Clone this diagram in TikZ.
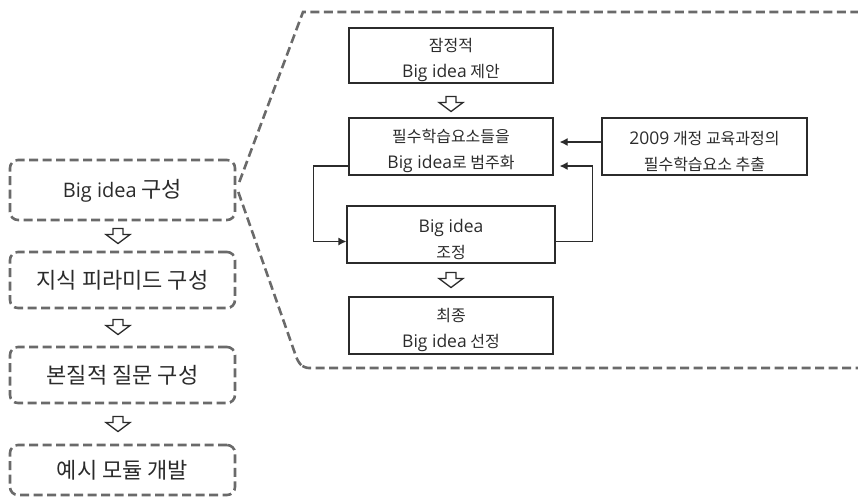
\documentclass[tikz,border=0pt]{standalone}
\usepackage{fontspec}
\setmainfont{Noto Sans CJK KR}
\newfontfamily\latfont{Open Sans}
\newcommand{\Bi}{{\latfont\fontsize{17.5}{26}\selectfont Big idea}}
\newcommand{\tstrut}{\rule{0pt}{22.5pt}}
\usetikzlibrary{arrows.meta,calc}
\definecolor{txt}{HTML}{2B2B2B}
\definecolor{dash}{HTML}{6A6A6A}
\begin{document}
\begin{tikzpicture}[x=1pt,y=-1pt,
  every node/.style={font=\fontsize{16}{26}\selectfont, text=txt, align=center},
  big/.style={font=\fontsize{22}{27}\selectfont},
  dbox/.style={draw=dash, line width=2.6pt, dash pattern=on 9pt off 4.5pt, rounded corners=8pt, minimum width=225pt, inner sep=0pt, big},
  sbox/.style={draw=txt, line width=1.2pt, minimum width=204pt, minimum height=56pt, inner sep=0pt},
  hollowline/.style={draw=txt, fill=white, line width=1.3pt, line join=miter},
  harrow/.pic={\path[hollowline] (-5,-7.5) -- (5,-7.5) -- (5,-1.5) -- (12,-1.5) -- (0,7.5) -- (-12,-1.5) -- (-5,-1.5) -- cycle;},
  conn/.style={draw=txt, line width=1.2pt, -{Latex[length=8pt,width=8pt]}},
  outline/.style={draw=dash, line width=2.6pt, dash pattern=on 9pt off 4.5pt}]
\useasboundingbox (0,0) rectangle (858,499);
% left column
\node[dbox, minimum height=60pt] (L1) at (122.5,190) {\rule{0pt}{20pt}{\latfont\fontsize{20}{25}\selectfont Big idea} 구성};
\node[dbox, minimum height=56pt] (L2) at (122.5,280) {지식 피라미드 구성};
\node[dbox, minimum height=56pt] (L3) at (122.5,375) {본질적 질문 구성};
\node[dbox, minimum height=50pt] (L4) at (122.5,470) {예시 모듈 개발};
\pic (h1) at (118,236) {harrow};
\pic (h2) at (118,327) {harrow};
\pic (h3) at (118,424) {harrow};
% zoom outline
\coordinate (o1) at (303,12);
\coordinate (o2) at (870,12);
\coordinate (o3) at (298,362);
\coordinate (o4) at (870,368);
\draw[outline] ([xshift=3pt,yshift=8pt]L1.east) -- (o1) -- (o2);
\draw[outline, rounded corners=5pt] ([xshift=2pt,yshift=-2pt]L1.east) -- (o3) -- (304,368) -- (o4);
% right detail
\node[sbox, minimum height=55pt] (A) at (451,55.5) {\tstrut 잠정적\\\Bi{} 제안};
\node[sbox, minimum height=57pt] (B) at (451,146.5) {\tstrut 필수학습요소들을\\\Bi{}로 범주화};
\node[sbox, minimum height=57pt, minimum width=205pt] (C) at (704.5,146.5) {\tstrut{\latfont\fontsize{17.5}{26}\selectfont 2009} 개정 교육과정의\\필수학습요소 추출};
\node[sbox, minimum height=57pt, minimum width=208pt] (D) at (451,234.5) {\tstrut\Bi\\조정};
\node[sbox, minimum height=57pt] (E) at (451,325.5) {\tstrut 최종\\\Bi{} 선정};
\pic (h4) at (451,104) {harrow};
\pic (h5) at (451,280) {harrow};
\draw[conn, shorten >=6pt] ([yshift=4.5pt]C.west) -- ([yshift=4.5pt]B.east);
\draw[conn] ([yshift=-19.5pt]B.west) -- ++(-35,0) |- ([yshift=-7pt]D.west);
\draw[conn, shorten >=6pt] ([yshift=-7pt]D.east) -- ++(37,0) |- ([yshift=-19.5pt]B.east);
\end{tikzpicture}
\end{document}
